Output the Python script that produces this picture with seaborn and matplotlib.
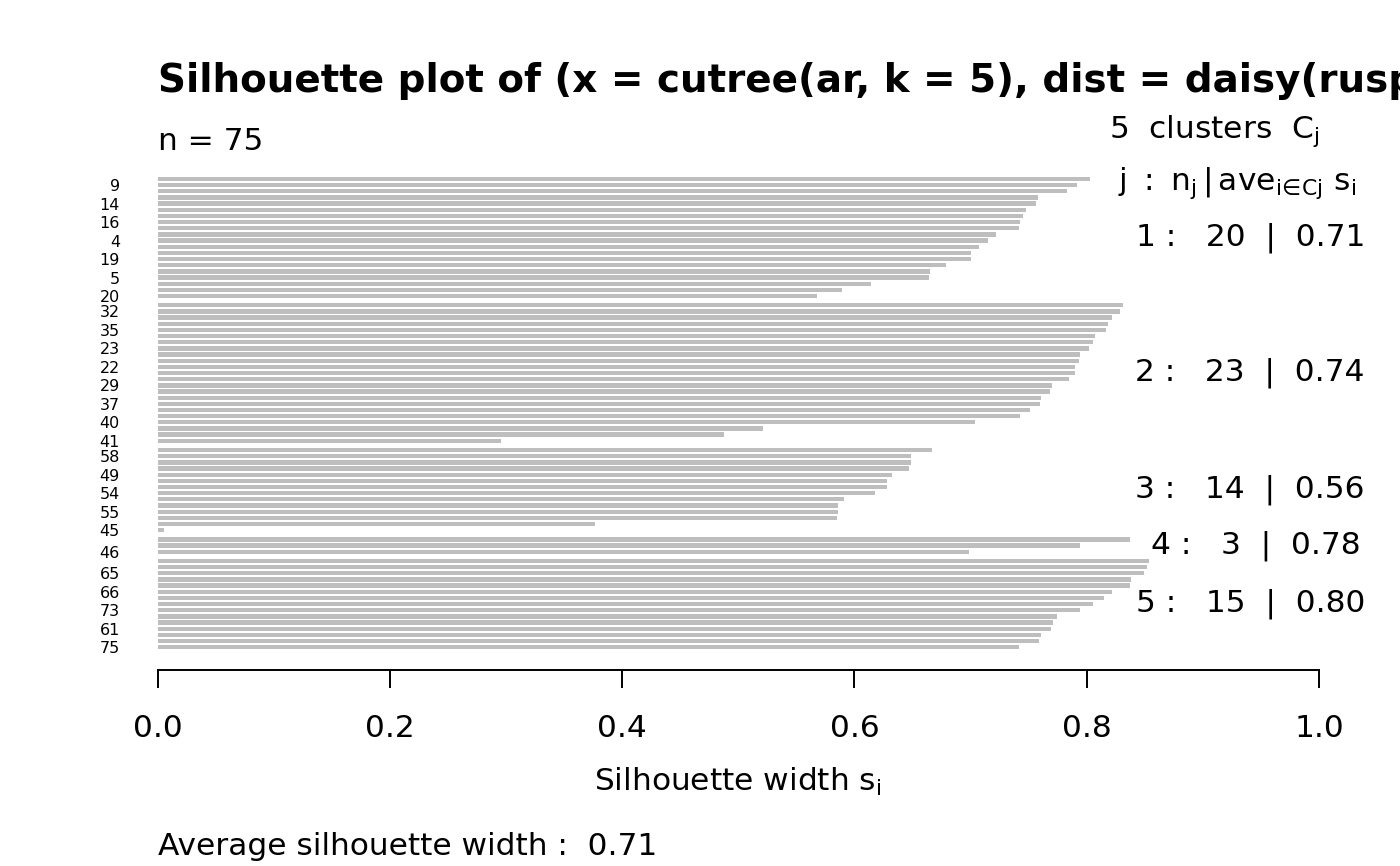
import numpy as np
import pandas as pd
import seaborn as sns
import matplotlib
matplotlib.use('Agg')
import matplotlib.pyplot as plt

# silhouette widths per cluster, sorted as in the plot (top to bottom)
s1 = [0.803, 0.792, 0.783, 0.758, 0.756, 0.748, 0.745, 0.743, 0.742, 0.722,
      0.715, 0.707, 0.700, 0.700, 0.679, 0.665, 0.664, 0.614, 0.589, 0.568]
s2 = [0.831, 0.829, 0.822, 0.818, 0.817, 0.807, 0.805, 0.802, 0.794, 0.793,
      0.790, 0.790, 0.785, 0.770, 0.768, 0.761, 0.760, 0.751, 0.743, 0.704,
      0.521, 0.488, 0.296]
s3 = [0.667, 0.649, 0.649, 0.647, 0.632, 0.628, 0.628, 0.618, 0.591, 0.586,
      0.586, 0.585, 0.377, 0.006]
s4 = [0.837, 0.794, 0.699]
s5 = [0.854, 0.852, 0.849, 0.838, 0.837, 0.822, 0.815, 0.805, 0.794, 0.774,
      0.771, 0.769, 0.761, 0.759, 0.742]

# observation labels that R managed to print (others were dropped for overlap)
lab1 = ["", "9", "", "", "14", "", "", "16", "", "", "4", "", "", "19", "", "", "5", "", "", "20"]
lab2 = ["", "32", "", "", "35", "", "", "23", "", "", "22", "", "", "29", "", "", "37", "", "",
        "40", "", "", "41"]
lab3 = ["", "58", "", "", "49", "", "", "54", "", "", "55", "", "", "45"]
lab4 = ["", "", "46"]
lab5 = ["", "", "65", "", "", "66", "", "", "73", "", "", "61", "", "", "75"]

clusters = [s1, s2, s3, s4, s5]
labels = [lab1, lab2, lab3, lab4, lab5]

# build long table, half a bar gap between clusters
rows = []
k = 0
for j, (vals, labs) in enumerate(zip(clusters, labels)):
    for v, lb in zip(vals, labs):
        rows.append({'cluster': j + 1, 's': v, 'pos': k + 0.5 * j, 'label': lb})
        k += 1
df = pd.DataFrame(rows)
n = len(df)

sns.set_style('white')
plt.rcParams['font.family'] = ['DejaVu Sans']
plt.rcParams['mathtext.fontset'] = 'dejavusans'
plt.rcParams['text.color'] = 'black'
plt.rcParams['xtick.color'] = 'black'
plt.rcParams['ytick.color'] = 'black'
plt.rcParams['axes.labelcolor'] = 'black'

FS = 22.5

fig = plt.figure(figsize=(14, 8.66), dpi=100)
W, H = 1400, 866
x0, x1 = 157.5, 1319
ytop, ybot = 160, 670
ax = fig.add_axes([x0 / W, 1 - ybot / H, (x1 - x0) / W, (ybot - ytop) / H])

sns.barplot(data=df, x='s', y='pos', orient='y', native_scale=True, color='#bebebe',
            saturation=1, width=0.7, linewidth=0, errorbar=None, ax=ax)

ax.set_xlim(0, 1)
ax.set_ylim(79.7, -3.08)
for sp in ['top', 'right', 'left']:
    ax.spines[sp].set_visible(False)
ax.spines['bottom'].set_bounds(0, 1)
ax.spines['bottom'].set_linewidth(1.4)
ax.spines['bottom'].set_color('black')

ax.set_xticks([0, 0.2, 0.4, 0.6, 0.8, 1.0])
ax.set_xticklabels(['0.0', '0.2', '0.4', '0.6', '0.8', '1.0'], fontsize=FS)
ax.tick_params(axis='x', length=13, width=1.4, pad=19, color='black', bottom=True)

shown = df[df['label'] != '']
ax.set_yticks(shown['pos'])
ax.set_yticklabels(shown['label'], fontsize=11.5)
ax.tick_params(axis='y', length=0, pad=27)
ax.set_xlabel('')
ax.set_ylabel('')

# cluster statistics on the right (R text adj = 0.8 at x = 1)
stat_texts = []
for j, grp in df.groupby('cluster'):
    txt = f"{j} :   {len(grp)}  |  {grp['s'].mean():.2f}"
    t = ax.text(1.0, grp['pos'].mean(), txt, fontsize=FS, ha='left', va='center', clip_on=False)
    stat_texts.append(t)

fig.text(x0 / W, 1 - 92 / H, "Silhouette plot of (x = cutree(ar, k = 5), dist = daisy(ruspini))",
         fontsize=28, fontweight='bold', ha='left', va='baseline')
fig.text(x0 / W, 1 - 150 / H, f"n = {n}", fontsize=FS, ha='left', va='baseline')
fig.text(x1 / W, 1 - 138 / H, r"5  clusters  $\mathrm{C_j}$", fontsize=FS, ha='right', va='baseline')
fig.text(1237 / W, 1 - 190 / H, r"$\mathrm{j\ :\ n_j\,|\,ave_{i\!\in\!Cj}\ s_i}$",
         fontsize=FS, ha='center', va='baseline')
fig.text(738 / W, 1 - 791 / H, r"Silhouette width $\mathrm{s_i}$", fontsize=FS, ha='center', va='baseline')
fig.text(x0 / W, 1 - 855 / H, f"Average silhouette width :  {df['s'].mean():.2f}",
         fontsize=FS, ha='left', va='baseline')

fig.canvas.draw()
renderer = fig.canvas.get_renderer()
inv = ax.transData.inverted()
for t in stat_texts:
    bb = t.get_window_extent(renderer)
    wd = inv.transform((bb.x1, 0))[0] - inv.transform((bb.x0, 0))[0]
    t.set_x(1.0 - 0.8 * wd)

fig.savefig('out.png', dpi=100)
